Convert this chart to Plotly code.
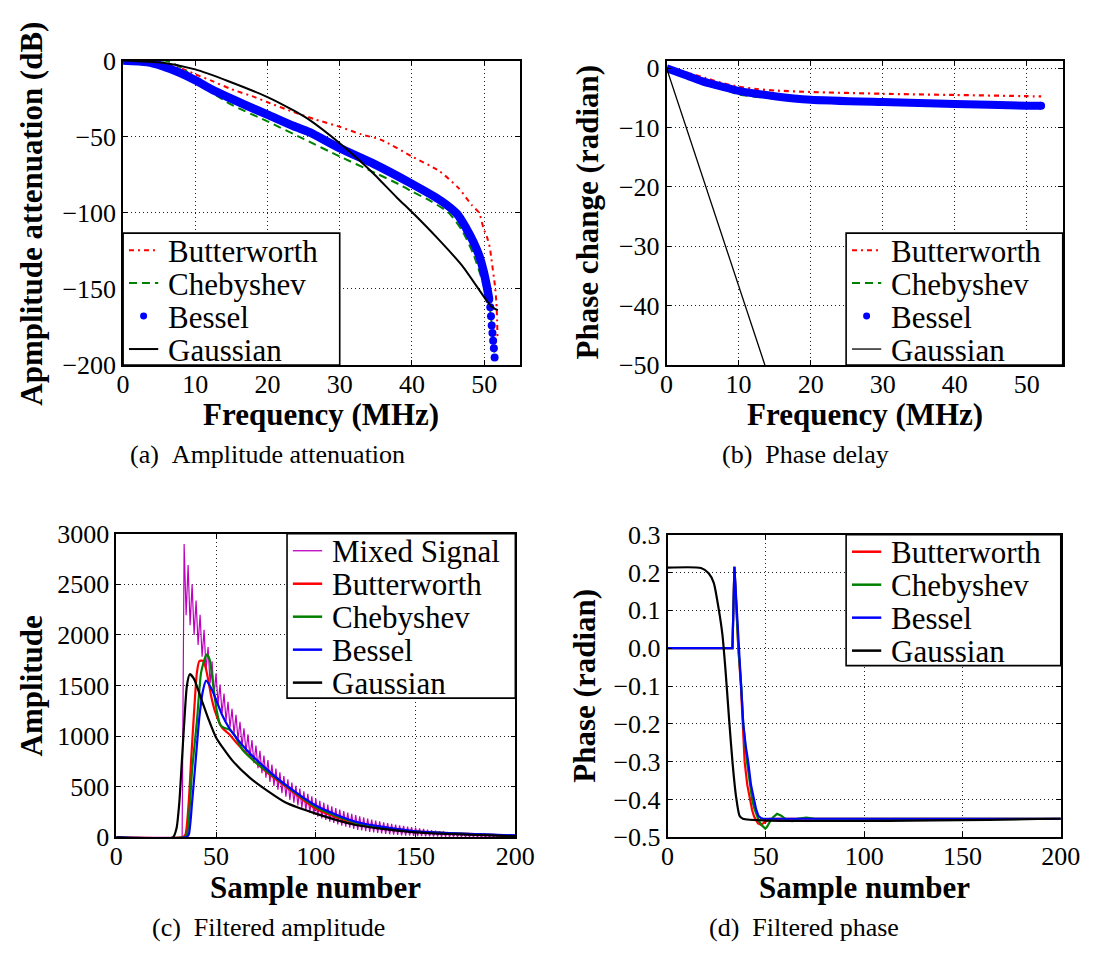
import plotly.graph_objects as go

FONT = "Liberation Serif"
W, H = 1112, 958

# ---------------- (a) amplitude attenuation (dB) vs frequency (MHz) ----------------
butter_a_freq = [0, 3, 5.5, 7.8, 10, 12.3, 15, 18.2, 20, 23.6, 26.7, 30, 33, 35.7, 40, 43.8,
                 46.5, 48.3, 49.3, 49.9, 50.4, 50.8, 51.0, 51.5, 51.7, 51.8, 51.85]
butter_a_db = [0, -0.3, -1.5, -4.7, -9, -13.4, -18.8, -24, -27.4, -33.8, -38.8, -43.5, -48.5, -52,
               -63, -72.6, -84, -95, -100, -110, -116, -123, -130, -148, -159, -171, -182]

cheby_a_freq = [0, 2, 4, 5.8, 7, 8.5, 10, 12.3, 15, 20, 25, 30, 35, 38.3, 40, 42.5, 45.1, 47,
                48.5, 50.1, 50.8, 51.2, 51.5]
cheby_a_db = [0, -0.4, -0.6, 0, -2, -6, -12, -21, -29, -40, -51.5, -63, -74, -81.5, -86, -92,
              -100, -112, -127, -150, -163, -180, -196]

bessel_a_freq = [0, 3.3, 5.5, 7.8, 10, 12.3, 14.5, 16.8, 20, 23.6, 25.8, 30, 34.8, 40, 44,
                 46.3, 47.5, 48.5, 49.3, 49.9, 50.4, 50.7,
                 50.85, 50.95, 51.05, 51.15, 51.25, 51.35, 51.45]
bessel_a_db = [0, -1, -3.7, -8, -13, -19, -24, -29, -35.5, -43, -47, -57.5, -68, -81, -92,
               -101, -110, -119, -128, -138, -149, -157,
               -162, -168, -174, -179, -184, -189, -195]
bessel_a_band_end = 22  # points past this index are drawn as separate dots

gauss_a_freq = [0, 5.5, 10, 14.5, 20, 23.6, 25.8, 30, 32.6, 34.8, 38, 40, 43.4, 47, 50.1, 51.0, 51.9]
gauss_a_db = [0, -1.5, -5.8, -13.4, -24, -32.8, -39, -54.3, -65, -74.8, -90.4, -99.5, -116, -135,
              -156, -161.5, -164]

# ---------------- (b) phase change (radian) vs frequency (MHz) ----------------
butter_b_freq = [0, 2.9, 5.3, 7.7, 10, 12.5, 15, 20, 30, 40, 50, 52]
butter_b_phase = [0, -0.8, -1.6, -2.5, -3.1, -3.5, -3.75, -4.0, -4.3, -4.5, -4.7, -4.75]

cheby_b_freq = [0, 2.9, 5.3, 7.7, 10, 15, 20, 30, 40, 50, 52]
cheby_b_phase = [0, -1.1, -2.2, -3.4, -4.4, -5.1, -5.4, -5.7, -6.0, -6.3, -6.3]

bessel_b_freq = [0, 2.5, 5, 7.7, 10, 15, 20, 30, 40, 50, 52]
bessel_b_phase = [0, -1.1, -2.2, -3.1, -3.8, -4.7, -5.3, -5.7, -6.0, -6.3, -6.3]

gauss_b_freq = [0, 52]
gauss_b_phase = [0, -190.5]

# ---------------- (c) filtered amplitude vs sample number ----------------
mixed_onset = 34
# alternating samples: peaks on even sample numbers 34..200, troughs on odd 35..199
mixed_peaks = [2900, 2690, 2500, 2340, 2200, 2050, 1880, 1740, 1620, 1510,
               1420, 1340, 1270, 1210, 1142, 1078, 1018, 961, 907, 856,
               808, 763, 720, 680, 642, 606, 572, 540, 510, 481,
               454, 429, 405, 382, 361, 342, 323, 306, 289, 274,
               259, 245, 232, 219, 207, 196, 185, 175, 166, 157,
               148, 140, 133, 126, 119, 112, 106, 101, 95, 88,
               82, 76, 71, 66, 61, 57, 53, 49, 45, 42,
               39, 36, 34, 31, 29, 27, 25, 23, 21, 20,
               18, 17, 16, 15]
mixed_troughs = [2195, 2095, 2000, 1900, 1785, 1655, 1520, 1410, 1315, 1225,
                 1150, 1085, 1025, 964, 900, 841, 786, 732, 682, 634,
                 590, 548, 508, 471, 435, 401, 370, 341, 315, 290,
                 266, 244, 223, 204, 187, 171, 155, 141, 128, 116,
                 104, 94, 84, 74, 67, 60, 53, 48, 43, 38,
                 33, 30, 27, 24, 20, 17, 16, 14, 13, 11,
                 10, 9, 8, 7, 6, 6, 5, 5, 5, 5,
                 4, 4, 4, 3, 3, 3, 3, 3, 3, 2,
                 2, 2, 2]

butter_c_n = [0, 33, 34.6, 36.3, 37.5, 39, 40.4, 41.6, 43.3, 44.5, 46, 47.5, 49.5, 53, 56.5, 60,
              67, 76, 84.6, 100, 120, 150, 200]
butter_c_amp = [0, 0, 25, 346, 763, 1244, 1628, 1740, 1745, 1700, 1564, 1400, 1244, 1083, 1020,
                940, 795, 635, 506, 282, 138, 58, 16]

cheby_c_n = [0, 34, 35.4, 38, 40.4, 42.5, 44.7, 45.4, 46.8, 48.6, 50.4, 52, 53.9, 56.5, 59, 63.5,
             70.5, 81, 100, 120, 150, 200]
cheby_c_amp = [0, 0, 25, 667, 1147, 1628, 1788, 1805, 1756, 1500, 1244, 1115, 1083, 1067, 1019,
               859, 730, 570, 300, 145, 58, 16]

bessel_c_n = [0, 35, 36.3, 38, 39.8, 41.6, 43.3, 45, 47.7, 50.4, 53, 56.5, 60, 67, 75.8, 84.6,
              100, 120, 150, 200]
bessel_c_amp = [0, 0, 25, 346, 763, 1180, 1436, 1548, 1468, 1340, 1212, 1083, 987, 827, 667, 522,
                314, 154, 58, 19]

gauss_c_n = [0, 28.4, 30.2, 31.6, 32.8, 34, 35.4, 36.8, 39, 42.5, 46, 50, 58, 67, 75.8, 84.6,
             100, 120, 150, 200]
gauss_c_amp = [0, 0, 90, 346, 730, 1115, 1500, 1612, 1564, 1372, 1179, 987, 763, 587, 458, 346,
               234, 122, 48, 10]

# ---------------- (d) filtered phase vs sample number ----------------
butter_d_n = [0, 33, 34, 35, 36, 37.3, 38.3, 39.2, 40.5, 41.8, 43, 44, 45, 46, 47.5, 49.5, 52, 200]
butter_d_phase = [0, 0, 0.215, 0.1, 0.0, -0.1, -0.2, -0.3, -0.36, -0.4, -0.428, -0.445, -0.456,
                  -0.463, -0.467, -0.46, -0.451, -0.451]

cheby_d_n = [0, 33, 34, 35, 36, 37.5, 38.5, 40.4, 41.8, 43, 44.2, 45.3, 46.6, 47.9, 49, 49.7, 50.5,
             51.4, 52.5, 53.7, 55.7, 57.8, 59.5, 61, 63.6, 66, 70.6, 75, 200]
cheby_d_phase = [0, 0, 0.215, 0.1, 0.0, -0.1, -0.2, -0.3, -0.36, -0.4, -0.425, -0.443, -0.458,
                 -0.468, -0.475, -0.477, -0.473, -0.464, -0.455, -0.447, -0.438, -0.443, -0.451,
                 -0.456, -0.457, -0.451, -0.448, -0.451, -0.451]

bessel_d_n = [0, 33, 34, 35.2, 36.2, 37.5, 38.5, 39.8, 41, 42.4, 43.9, 45, 46.2, 47.5, 48.8, 200]
bessel_d_phase = [0, 0, 0.215, 0.1, 0.0, -0.1, -0.2, -0.26, -0.3, -0.36, -0.4, -0.425, -0.443,
                  -0.449, -0.451, -0.451]

gauss_d_n = [0, 17, 20.9, 23.5, 26, 27.9, 29.6, 31.4, 33.1, 34.8, 36.6, 38.3, 200]
gauss_d_phase = [0.213, 0.212, 0.198, 0.173, 0.104, 0.036, -0.067, -0.195, -0.306, -0.391,
                 -0.443, -0.451, -0.451]

RED, GREEN, BLUE, BLACK, MAGENTA = "#ff0000", "#008000", "#0000ff", "#000000", "#bf00bf"
DASHDOT = "5px,4px,2px,4px"
DASH = "8px,5px"

fig = go.Figure()


def line(x, y, name, color, width=2, dash="solid", ax=("x", "y"), shape="spline"):
    fig.add_trace(go.Scatter(
        x=x, y=y, name=name, mode="lines", xaxis=ax[0], yaxis=ax[1], showlegend=False,
        line=dict(color=color, width=width, dash=dash, shape=shape, smoothing=0.6),
    ))


def dots(x, y, name, ax=("x", "y")):
    fig.add_trace(go.Scatter(
        x=x, y=y, name=name, mode="markers", xaxis=ax[0], yaxis=ax[1], showlegend=False,
        marker=dict(color=BLUE, size=8, line=dict(width=0)),
    ))


# (a)
line(butter_a_freq, butter_a_db, "Butterworth", RED, 2, DASHDOT)
line(cheby_a_freq, cheby_a_db, "Chebyshev", GREEN, 2, DASH)
line(bessel_a_freq[:bessel_a_band_end], bessel_a_db[:bessel_a_band_end], "Bessel", BLUE, 8.5)
dots(bessel_a_freq[bessel_a_band_end - 1:], bessel_a_db[bessel_a_band_end - 1:], "Bessel")
line(gauss_a_freq, gauss_a_db, "Gaussian", BLACK, 2)

# (b)
ab = ("x2", "y2")
line(butter_b_freq, butter_b_phase, "Butterworth", RED, 2.2, DASHDOT, ab)
line(cheby_b_freq, cheby_b_phase, "Chebyshev", GREEN, 2.2, DASH, ab)
line(bessel_b_freq, bessel_b_phase, "Bessel", BLUE, 8, "solid", ab)
dots(bessel_b_freq[-1:], bessel_b_phase[-1:], "Bessel", ab)
line(gauss_b_freq, gauss_b_phase, "Gaussian", BLACK, 1.3, "solid", ab, shape="linear")

# (c)
ac = ("x3", "y3")
mixed_n = list(range(0, 201))
mixed_amp = [0] * mixed_onset
for i, p in enumerate(mixed_peaks):
    mixed_amp.append(p)
    if i < len(mixed_troughs):
        mixed_amp.append(mixed_troughs[i])
line(mixed_n, mixed_amp, "Mixed Signal", MAGENTA, 1.2, "solid", ac, shape="linear")
line(butter_c_n, butter_c_amp, "Butterworth", RED, 2.2, "solid", ac)
line(cheby_c_n, cheby_c_amp, "Chebyshev", GREEN, 2.2, "solid", ac)
line(bessel_c_n, bessel_c_amp, "Bessel", BLUE, 2.2, "solid", ac)
line(gauss_c_n, gauss_c_amp, "Gaussian", BLACK, 2.2, "solid", ac)

# (d)
ad = ("x4", "y4")
line(butter_d_n, butter_d_phase, "Butterworth", RED, 2.2, "solid", ad, shape="linear")
line(cheby_d_n, cheby_d_phase, "Chebyshev", GREEN, 2.2, "solid", ad, shape="linear")
line(bessel_d_n, bessel_d_phase, "Bessel", BLUE, 2.2, "solid", ad, shape="linear")
line(gauss_d_n, gauss_d_phase, "Gaussian", BLACK, 2.2, "solid", ad)


def axis(domain, rng, dtick, anchor, tickformat=None, standoff=0):
    return dict(
        domain=domain, range=rng, dtick=dtick, tick0=0, anchor=anchor,
        tickformat=tickformat, showline=True, linecolor="black", linewidth=1.6,
        mirror="ticks", ticks="inside", ticklen=5, tickwidth=1, tickcolor="black",
        ticklabelstandoff=standoff,
        showgrid=True, gridcolor="#222222", gridwidth=1, griddash="1px,3px",
        zeroline=False, fixedrange=True,
        tickfont=dict(family=FONT, size=26, color="black"),
    )


def px_x(v):
    return v / W


def px_y(v):
    return 1 - v / H


XS = -5  # pull the x tick labels a little closer to the axis line
fig.update_layout(
    width=W, height=H, autosize=False,
    margin=dict(l=0, r=0, t=0, b=0),
    paper_bgcolor="white", plot_bgcolor="white",
    showlegend=False,
    font=dict(family=FONT, color="black"),
    xaxis=axis([px_x(119), px_x(526)], [0, 55], 10, "y", standoff=XS),
    yaxis=axis([px_y(362), px_y(48)], [-200, 0], 50, "x"),
    xaxis2=axis([px_x(676), px_x(1082)], [0, 55], 10, "y2", standoff=XS),
    yaxis2=axis([px_y(362), px_y(48)], [-50, 1.3], 10, "x2"),
    xaxis3=axis([px_x(112), px_x(521)], [0, 200], 50, "y3", standoff=XS),
    yaxis3=axis([px_y(849), px_y(536)], [0, 3000], 500, "x3"),
    xaxis4=axis([px_x(677), px_x(1080)], [0, 200], 50, "y4", standoff=XS),
    yaxis4=axis([px_y(849), px_y(537)], [-0.5, 0.3], 0.1, "x4", ".1f"),
)


# legend boxes: (left, top, right, bottom) in pixels, entries in drawing order
def draw_legend(box, entries, row0=17.5, step=34):
    x0, y0, x1, y1 = box
    fig.add_shape(type="rect", xref="paper", yref="paper", layer="above",
                  x0=px_x(x0), x1=px_x(x1), y0=px_y(y1), y1=px_y(y0),
                  line=dict(color="black", width=1.6), fillcolor="white")
    for i, (name, color, width, dash, kind) in enumerate(entries):
        yc = y0 + row0 + i * step
        if kind == "dot":
            r = 3.6
            fig.add_shape(type="circle", xref="paper", yref="paper", layer="above",
                          x0=px_x(x0 + 21 - r), x1=px_x(x0 + 21 + r),
                          y0=px_y(yc + r), y1=px_y(yc - r),
                          line=dict(width=0), fillcolor=color)
        else:
            fig.add_shape(type="line", xref="paper", yref="paper", layer="above",
                          x0=px_x(x0 + 6), x1=px_x(x0 + 36), y0=px_y(yc), y1=px_y(yc),
                          line=dict(color=color, width=width, dash=dash))
        fig.add_annotation(text=name, x=px_x(x0 + 44), y=px_y(yc + 1), xref="paper", yref="paper",
                           xanchor="left", yanchor="middle", showarrow=False,
                           font=dict(family=FONT, size=31, color="black"))


freq_entries = [("Butterworth", RED, 2, DASHDOT, "line"), ("Chebyshev", GREEN, 2, DASH, "line"),
                ("Bessel", BLUE, 0, None, "dot"), ("Gaussian", BLACK, 2, "solid", "line")]
draw_legend((119, 226, 341, 362), freq_entries)
draw_legend((860, 226, 1082, 362), freq_entries[:3] + [("Gaussian", BLACK, 1.3, "solid", "line")])
draw_legend((287, 536, 521, 705.5), [
    ("Mixed Signal", MAGENTA, 1.3, "solid", "line"), ("Butterworth", RED, 2.5, "solid", "line"),
    ("Chebyshev", GREEN, 2.5, "solid", "line"), ("Bessel", BLUE, 2.5, "solid", "line"),
    ("Gaussian", BLACK, 2.5, "solid", "line")])
draw_legend((860, 537, 1080, 672), [
    ("Butterworth", RED, 2.5, "solid", "line"), ("Chebyshev", GREEN, 2.5, "solid", "line"),
    ("Bessel", BLUE, 2.5, "solid", "line"), ("Gaussian", BLACK, 2.5, "solid", "line")])

texts = [
    # (text, x px, y px, angle, size, bold)
    ("Apmplitude attenuation (dB)", 25, 205.5, -90, 31, True),
    ("Frequency (MHz)", 322, 413, 0, 31, True),
    ("(a)&nbsp;&nbsp;Amplitude attenuation", 267, 454, 0, 26, False),
    ("Phase change (radian)", 595, 204, -90, 31, True),
    ("Frequency (MHz)", 879, 413, 0, 31, True),
    ("(b)&nbsp;&nbsp;Phase delay", 818, 454, 0, 26, False),
    ("Amplitude", 25, 693, -90, 31, True),
    ("Sample number", 316.5, 901, 0, 31, True),
    ("(c)&nbsp;&nbsp;Filtered amplitude", 268, 942, 0, 26, False),
    ("Phase (radian)", 591, 693, -90, 31, True),
    ("Sample number", 878.5, 901, 0, 31, True),
    ("(d)&nbsp;&nbsp;Filtered phase", 817, 942, 0, 26, False),
]
for txt, x, y, ang, size, bold in texts:
    fig.add_annotation(
        text=f"<b>{txt}</b>" if bold else txt,
        x=px_x(x), y=px_y(y), xref="paper", yref="paper",
        xanchor="center", yanchor="middle", textangle=ang, showarrow=False,
        font=dict(family=FONT, size=size, color="black"),
    )

fig.write_html("out.html")
